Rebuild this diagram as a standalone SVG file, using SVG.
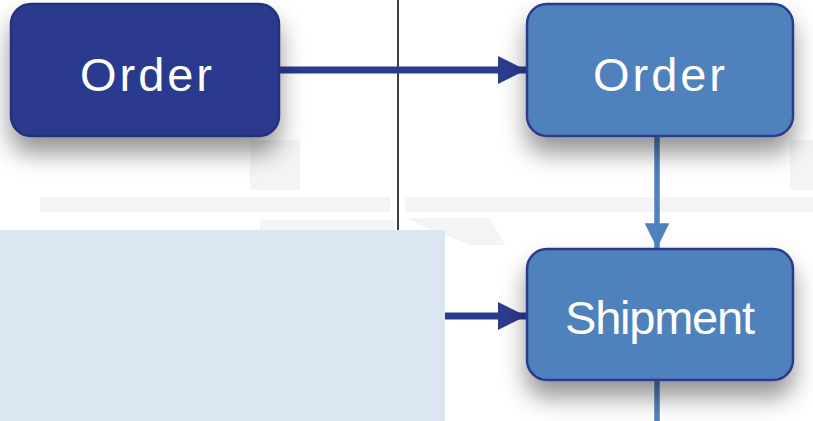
<svg xmlns="http://www.w3.org/2000/svg" width="813" height="421" viewBox="0 0 813 421">
<defs>
<style>
.box{stroke-width:2.5}
.dark{fill:#2B3B8F;stroke:#24327A}
.light{fill:#4F81BD;stroke:#2B3B8F}
.lbl{font-family:"Liberation Sans",Arial,sans-serif;font-size:47px;fill:#FFFFFF;text-anchor:middle}
.wm{fill:#F3F4F6}
</style>
<filter id="sh" x="-20%" y="-20%" width="140%" height="160%">
<feDropShadow dx="0" dy="16" stdDeviation="12" flood-color="#000" flood-opacity="0.42"/>
</filter>
<marker id="ad" viewBox="0 0 10 10" refX="10" refY="5" markerWidth="4.2" markerHeight="4" markerUnits="strokeWidth" orient="auto">
<path d="M0,0 L10,5 L0,10 Z" fill="#2B3B8F"/>
</marker>
<marker id="al" viewBox="0 0 10 10" refX="10" refY="5" markerWidth="4.5" markerHeight="4.5" markerUnits="strokeWidth" orient="auto">
<path d="M0,0 L10,5 L0,10 Z" fill="#4F81BD"/>
</marker>
</defs>
<rect width="813" height="421" fill="#FFFFFF"/>
<g id="watermark">
<rect class="wm" x="40" y="197" width="350" height="15"/>
<rect class="wm" x="405" y="197" width="408" height="15"/>
<rect class="wm" x="260" y="220" width="135" height="10"/>
<polygon class="wm" points="405,218 490,218 505,245 470,245"/>
<rect class="wm" x="250" y="140" width="50" height="50"/>
<rect class="wm" x="790" y="140" width="23" height="50"/>
</g>
<line x1="398" y1="0" x2="398" y2="232" stroke="#000" stroke-width="1.5"/>
<rect x="0" y="230" width="445" height="191" fill="#DCE6F2"/>
<g id="connectors">
<line x1="279" y1="70" x2="526" y2="70" stroke="#2B3B8F" stroke-width="7" marker-end="url(#ad)"/>
<line x1="445" y1="316" x2="526" y2="316" stroke="#2B3B8F" stroke-width="7" marker-end="url(#ad)"/>
<line x1="657" y1="136" x2="657" y2="248" stroke="#4F81BD" stroke-width="5.5" marker-end="url(#al)"/>
<line x1="657" y1="380" x2="657" y2="421" stroke="#4F81BD" stroke-width="5.5"/>
</g>
<g id="order-left">
<rect class="box dark" x="11" y="4" width="268" height="132" rx="20" filter="url(#sh)"/>
<text class="lbl" x="146" y="91" textLength="132" lengthAdjust="spacing">Order</text>
</g>
<g id="order-right">
<rect class="box light" x="527" y="4" width="266" height="132" rx="20" filter="url(#sh)"/>
<text class="lbl" x="659" y="91" textLength="132" lengthAdjust="spacing">Order</text>
</g>
<g id="shipment">
<rect class="box light" x="527" y="249" width="266" height="131" rx="20" filter="url(#sh)"/>
<text class="lbl" x="660" y="334" textLength="190" lengthAdjust="spacing">Shipment</text>
</g>
</svg>
